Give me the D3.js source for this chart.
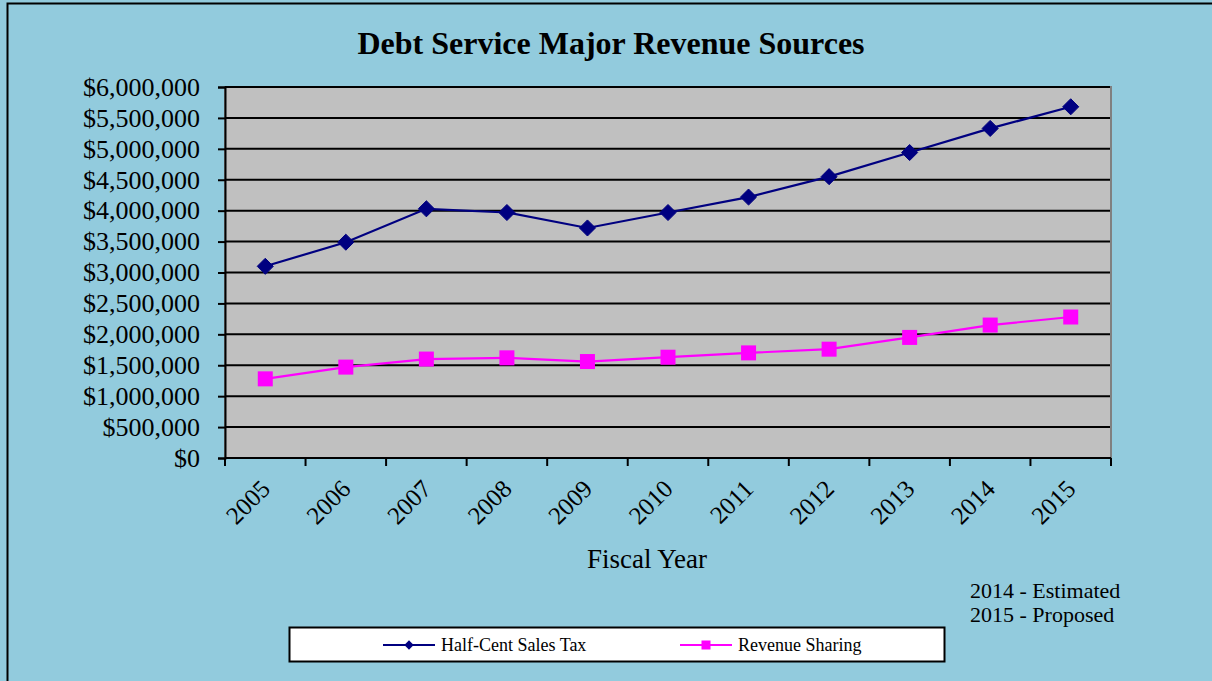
<!DOCTYPE html>
<html>
<head>
<meta charset="utf-8">
<script src="https://cdn.jsdelivr.net/npm/d3@7"></script>
<style>
  body { margin: 0; background: #92cbdd; }
  svg { display: block; }
</style>
</head>
<body>
<div id="chart"></div>
<script>
const years = ["2005","2006","2007","2008","2009","2010","2011","2012","2013","2014","2015"];
const halfCent = [3100000,3490000,4030000,3970000,3720000,3970000,4220000,4550000,4940000,5330000,5680000];
const revenueSharing = [1280000,1470000,1600000,1620000,1560000,1630000,1700000,1760000,1950000,2150000,2280000];
const yTicks = [0,500000,1000000,1500000,2000000,2500000,3000000,3500000,4000000,4500000,5000000,5500000,6000000];
const notes = ["2014 - Estimated", "2015 - Proposed"];
const seriesNames = ["Half-Cent Sales Tax", "Revenue Sharing"];

const width = 1212, height = 681;
const plot = {left: 225, right: 1111, top: 87, bottom: 458};
const serif = "'Liberation Serif', 'Times New Roman', serif";

const svg = d3.select("#chart").append("svg")
    .attr("width", width).attr("height", height);

// outer frame
svg.append("rect")
    .attr("x", 7.5).attr("y", 3.5)
    .attr("width", width + 10).attr("height", height + 10)
    .attr("fill", "#92cbdd").attr("stroke", "#000").attr("stroke-width", 2);

svg.append("text")
    .attr("x", 611).attr("y", 54)
    .attr("text-anchor", "middle")
    .attr("font-family", serif).attr("font-weight", "bold").attr("font-size", 32)
    .text("Debt Service Major Revenue Sources");

const x = d3.scaleBand().domain(years).range([plot.left, plot.right]);
const y = d3.scaleLinear().domain([0, 6000000]).range([plot.bottom, plot.top]);

// plot background
svg.append("rect")
    .attr("x", plot.left).attr("y", plot.top)
    .attr("width", plot.right - plot.left).attr("height", plot.bottom - plot.top)
    .attr("fill", "#c0c0c0").attr("stroke", "#808080").attr("stroke-width", 2);

// gridlines
svg.append("g")
  .selectAll("line")
  .data(yTicks.filter(d => d > 0))
  .join("line")
    .attr("x1", plot.left).attr("x2", plot.right - 1)
    .attr("y1", d => y(d)).attr("y2", d => y(d))
    .attr("stroke", "#000").attr("stroke-width", 2);

// y axis
const yAxis = svg.append("g")
    .attr("transform", `translate(${plot.left},0)`)
    .call(d3.axisLeft(y).tickValues(yTicks).tickSize(7).tickPadding(18)
        .tickFormat(d => "$" + d3.format(",")(d)));
yAxis.select(".domain").attr("stroke-width", 2);
yAxis.selectAll(".tick line").attr("stroke-width", 2);
yAxis.selectAll("text").attr("font-family", serif).attr("font-size", 26).attr("fill", "#000");

// x axis (ticks at category boundaries)
const xAxisG = svg.append("g").attr("transform", `translate(0,${plot.bottom})`);
xAxisG.append("line")
    .attr("x1", plot.left).attr("x2", plot.right)
    .attr("stroke", "#000").attr("stroke-width", 2);
xAxisG.selectAll("line.tk")
  .data(years.concat(["end"]))
  .join("line").attr("class", "tk")
    .attr("x1", (d, i) => i < years.length ? x(d) : plot.right)
    .attr("x2", (d, i) => i < years.length ? x(d) : plot.right)
    .attr("y1", 0).attr("y2", 8)
    .attr("stroke", "#000").attr("stroke-width", 2);
xAxisG.selectAll("text")
  .data(years)
  .join("text")
    .attr("transform", d => `translate(${x(d) + x.bandwidth() / 2 - 6},20) rotate(-45)`)
    .attr("text-anchor", "end")
    .attr("dy", "0.7em")
    .attr("font-family", serif).attr("font-size", 25)
    .text(d => d);

svg.append("text")
    .attr("x", 647).attr("y", 568)
    .attr("text-anchor", "middle")
    .attr("font-family", serif).attr("font-size", 27)
    .text("Fiscal Year");

// lines
const line = d3.line()
    .x((d, i) => x(years[i]) + x.bandwidth() / 2)
    .y(d => y(d));

svg.append("path").datum(halfCent)
    .attr("d", line).attr("fill", "none")
    .attr("stroke", "#000080").attr("stroke-width", 2.2);
svg.append("path").datum(revenueSharing)
    .attr("d", line).attr("fill", "none")
    .attr("stroke", "#ff00ff").attr("stroke-width", 2.2);

const diamond = d3.symbol().type(d3.symbolDiamond2).size(165);
svg.append("g").selectAll("path")
  .data(halfCent)
  .join("path")
    .attr("transform", (d, i) => `translate(${x(years[i]) + x.bandwidth() / 2},${y(d)})`)
    .attr("d", diamond)
    .attr("fill", "#000080").attr("stroke", "#000080").attr("stroke-width", 1);

svg.append("g").selectAll("rect")
  .data(revenueSharing)
  .join("rect")
    .attr("x", (d, i) => x(years[i]) + x.bandwidth() / 2 - 7.5)
    .attr("y", d => y(d) - 7.5)
    .attr("width", 15).attr("height", 15)
    .attr("fill", "#ff00ff");

// notes
svg.append("g").selectAll("text")
  .data(notes)
  .join("text")
    .attr("x", 970).attr("y", (d, i) => 598 + i * 24)
    .attr("font-family", serif).attr("font-size", 22)
    .text(d => d);

// legend
const legend = svg.append("g");
legend.append("rect")
    .attr("x", 289.5).attr("y", 627.5).attr("width", 655).attr("height", 34)
    .attr("fill", "#fff").attr("stroke", "#000").attr("stroke-width", 2);
const legX = [383, 680];
const legColors = ["#000080", "#ff00ff"];
seriesNames.forEach((name, i) => {
  const g = legend.append("g").attr("transform", `translate(${legX[i]},645)`);
  g.append("line").attr("x1", 0).attr("x2", 52)
    .attr("stroke", legColors[i]).attr("stroke-width", 2.2);
  if (i === 0) {
    g.append("path").attr("transform", "translate(26,0)")
      .attr("d", d3.symbol().type(d3.symbolDiamond2).size(55))
      .attr("fill", legColors[i]);
  } else {
    g.append("rect").attr("x", 21.5).attr("y", -4.5).attr("width", 9).attr("height", 9)
      .attr("fill", legColors[i]);
  }
  g.append("text").attr("x", 58).attr("dy", "0.35em")
    .attr("font-family", serif).attr("font-size", 18)
    .text(name);
});
</script>
</body>
</html>
